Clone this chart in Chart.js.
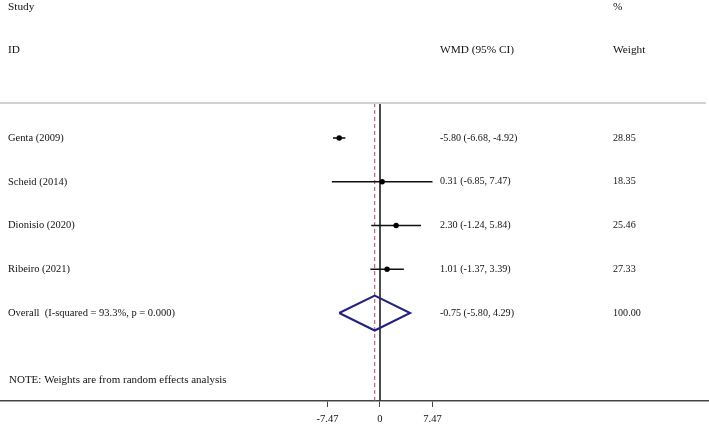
<!DOCTYPE html>
<html>
<head>
<meta charset="utf-8">
<script src="https://cdn.jsdelivr.net/npm/chart.js@4"></script>
<style>
html,body{margin:0;padding:0;background:#fff;}
#wrap{width:709px;height:424px;}
</style>
</head>
<body>
<div id="wrap"><canvas id="c" width="709" height="424"></canvas></div>
<script>
// ---- data ----
const studies = ['Genta (2009)', 'Scheid (2014)', 'Dionisio (2020)', 'Ribeiro (2021)'];
const wmd = [-5.80, 0.31, 2.30, 1.01];
const lower = [-6.68, -6.85, -1.24, -1.37];
const upper = [-4.92, 7.47, 5.84, 3.39];
const weights = [28.85, 18.35, 25.46, 27.33];
const overallLabel = 'Overall  (I-squared = 93.3%, p = 0.000)';
const overallWmd = -0.75;
const overallLower = -5.80;
const overallUpper = 4.29;
const overallWeight = 100.00;
const xTicks = [-7.47, 0, 7.47];
const noteText = 'NOTE: Weights are from random effects analysis';

// ---- layout helpers (row indices on y scale) ----
const rows = studies.map((s, i) => i + 1);
const overallRow = studies.length + 1;
const diamondHalf = 0.4;

const ciDatasets = studies.map((s, i) => ({
  type: 'scatter',
  data: [{x: lower[i], y: rows[i]}, {x: upper[i], y: rows[i]}],
  showLine: true,
  borderColor: '#111',
  borderWidth: 1.6,
  pointRadius: 0,
  order: 2
}));

const datasets = [
  // zero line
  {type:'scatter', data:[{x:0,y:0.2},{x:0,y:7.2}], showLine:true, borderColor:'#333', borderWidth:1, pointRadius:0, order:5},
  // overall dashed line
  {type:'scatter', data:[{x:overallWmd,y:0.2},{x:overallWmd,y:7.2}], showLine:true, borderColor:'#b5475a', borderWidth:1, borderDash:[4,3], pointRadius:0, order:4},
  ...ciDatasets,
  // point estimates
  {type:'scatter', data: studies.map((s,i)=>({x:wmd[i], y:rows[i]})), pointRadius:2.7, pointBackgroundColor:'#000', pointBorderColor:'#000', pointBorderWidth:0, order:1},
  // diamond
  {type:'scatter', data:[
      {x:overallLower,y:overallRow},
      {x:overallWmd,y:overallRow-diamondHalf},
      {x:overallUpper,y:overallRow},
      {x:overallWmd,y:overallRow+diamondHalf},
      {x:overallLower,y:overallRow}
    ], showLine:true, borderColor:'#22227f', borderWidth:2, pointRadius:0, borderJoinStyle:'miter', order:0}
];

const textPlugin = {
  id: 'forestText',
  afterDraw(chart) {
    const ctx = chart.ctx;
    const ys = chart.scales.y;
    const colStudy = 8, colCI = 440, colW = 613;
    const fam = '"Liberation Serif", "Times New Roman", serif';
    ctx.save();
    // grey header separator
    ctx.strokeStyle = '#d2d2d2';
    ctx.lineWidth = 2;
    ctx.beginPath();
    const gy = ys.getPixelForValue(0.2);
    ctx.moveTo(0, gy); ctx.lineTo(706, gy); ctx.stroke();

    ctx.fillStyle = '#111';
    ctx.textBaseline = 'middle';
    ctx.textAlign = 'left';
    const head = '11.3px ' + fam, left = '10.5px ' + fam, num = '10.1px ' + fam;
    const yStudy = ys.getPixelForValue(-2), yID = ys.getPixelForValue(-1);
    ctx.font = head;
    ctx.fillText('Study', colStudy, yStudy);
    ctx.fillText('ID', colStudy, yID);
    ctx.fillText('%', colW, yStudy);
    ctx.fillText('WMD (95% CI)', colCI, yID);
    ctx.fillText('Weight', colW, yID);
    studies.forEach((s, i) => {
      const y = ys.getPixelForValue(rows[i]);
      ctx.font = left;
      ctx.fillText(s, colStudy, y);
      ctx.font = num;
      ctx.fillText(`${wmd[i].toFixed(2)} (${lower[i].toFixed(2)}, ${upper[i].toFixed(2)})`, colCI, y);
      ctx.fillText(weights[i].toFixed(2), colW, y);
    });
    const yo = ys.getPixelForValue(overallRow);
    ctx.font = left;
    ctx.fillText(overallLabel, colStudy, yo);
    ctx.font = num;
    ctx.fillText(`${overallWmd.toFixed(2)} (${overallLower.toFixed(2)}, ${overallUpper.toFixed(2)})`, colCI, yo);
    ctx.fillText(overallWeight.toFixed(2), colW, yo);
    ctx.font = '11px ' + fam;
    ctx.fillText(noteText, colStudy + 1, ys.getPixelForValue(6.53));
    ctx.restore();
  }
};

new Chart(document.getElementById('c'), {
  type: 'scatter',
  data: { datasets },
  options: {
    responsive: false,
    animation: false,
    layout: { padding: 0, autoPadding: false },
    plugins: { legend: {display:false}, tooltip: {enabled:false} },
    scales: {
      x: {
        type: 'linear',
        min: -54.05, max: 46.80,
        afterBuildTicks(axis) { axis.ticks = xTicks.map(v => ({value: v})); },
        afterFit(axis) { axis.height = 23; },
        grid: { drawOnChartArea: false, drawTicks: true, tickLength: 6, color: '#444' },
        border: { color: '#444', width: 1.5 },
        ticks: {
          padding: 6,
          color: '#111',
          font: { family: '"Liberation Serif", "Times New Roman", serif', size: 10.5 },
          callback: (v) => (v === 0 ? '0' : v.toFixed(2)),
          autoSkip: false, maxRotation: 0
        }
      },
      y: {
        type: 'linear',
        display: false,
        reverse: true,
        min: -2.154, max: 7.011
      }
    }
  },
  plugins: [textPlugin]
});
</script>
</body>
</html>
